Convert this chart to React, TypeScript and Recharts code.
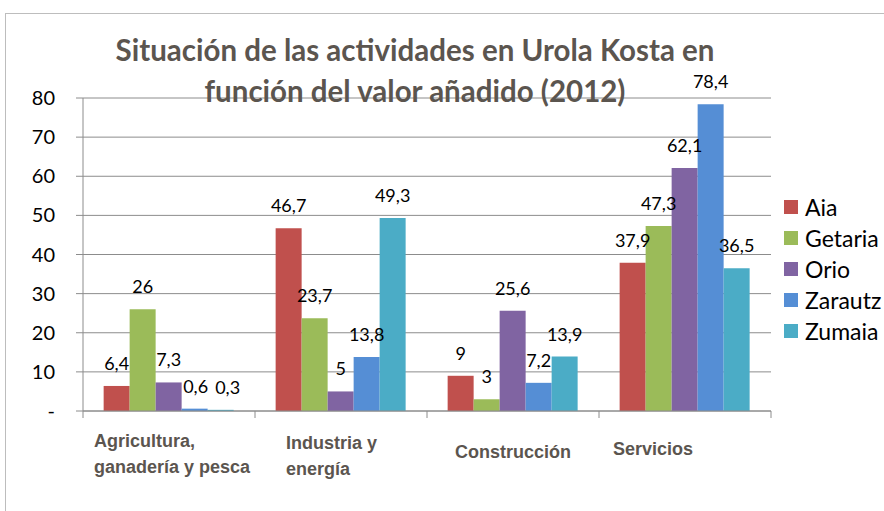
import { BarChart, Bar, XAxis, YAxis, CartesianGrid, LabelList } from 'recharts';

const categories = ['Agricultura, ganadería y pesca', 'Industria y energía', 'Construcción', 'Servicios'];
const categoryLines = [['Agricultura,', 'ganadería y pesca'], ['Industria y', 'energía'], ['Construcción'], ['Servicios']];
const seriesNames = ['Aia', 'Getaria', 'Orio', 'Zarautz', 'Zumaia'];
const aia = [6.4, 46.7, 9, 37.9];
const getaria = [26, 23.7, 3, 47.3];
const orio = [7.3, 5, 25.6, 62.1];
const zarautz = [0.6, 13.8, 7.2, 78.4];
const zumaia = [0.3, 49.3, 13.9, 36.5];
const yTicks = [0, 10, 20, 30, 40, 50, 60, 70, 80];
const titleLines = ['Situación de las actividades en Urola Kosta en', 'función del valor añadido (2012)'];

const colors = ['#C0504D', '#9BBB59', '#8064A2', '#558ED5', '#4BACC6'];
const seriesValues = [aia, getaria, orio, zarautz, zumaia];

const data = categories.map((name, i) => {
  const row: Record<string, any> = { name, idx: i };
  seriesNames.forEach((s, k) => {
    row[s] = seriesValues[k][i];
  });
  return row;
});

const bodyFont = 'Lato, "Open Sans", sans-serif';
const catFont = '"Liberation Sans", Arial, sans-serif';
const greyText = '#5B554F';

const fmt = (v: any) => String(v).replace('.', ',');

// category label block offsets (Excel places these a bit irregularly)
const tickDx = [-75, -55, -58, -72];
const tickDy = [22, 24, 33, 30];

const CategoryTick = (props: any) => {
  const { x, y, index } = props;
  const lines = categoryLines[index] || [];
  return (
    <text
      x={x + tickDx[index]}
      y={y + tickDy[index]}
      fill={greyText}
      fontFamily={catFont}
      fontWeight="bold"
      fontSize={18}
      textAnchor="start"
      dominantBaseline="middle"
    >
      {lines.map((l, i) => (
        <tspan key={i} x={x + tickDx[index]} dy={i === 0 ? 0 : 26}>
          {l}
        </tspan>
      ))}
    </text>
  );
};

// small neighbouring labels get pushed apart a little, like Excel does
const SeriesLabel = (props: any) => {
  const { x, y, width, value, index, seriesIndex } = props;
  let dx = 0;
  if (value < 1 && seriesIndex === 4) dx = 7;
  if (value < 1 && seriesIndex === 3) dx = 1;
  return (
    <text
      x={x + width / 2 + dx}
      y={y - 16}
      textAnchor="middle"
      fill="#000"
      fontFamily={bodyFont}
      fontSize={18}
      key={index}
    >
      {fmt(value)}
    </text>
  );
};

const App = () => {
  return (
    <div style={{ position: 'absolute', left: 0, top: 0, width: 884, height: 511, background: '#fff', overflow: 'hidden' }}>
      <div
        style={{
          position: 'absolute',
          left: 5,
          top: 13,
          width: 900,
          height: 520,
          borderLeft: '1.5px solid #BDBDBD',
          borderTop: '1.5px solid #BDBDBD',
        }}
      />
      <div style={{ position: 'absolute', left: 0, top: 0 }}>
        <BarChart
          width={884}
          height={511}
          data={data}
          margin={{ top: 98, right: 113, left: 0, bottom: 0 }}
          barCategoryGap="12%"
          barGap={0}
        >
          <CartesianGrid vertical={false} stroke="#8C8C8C" strokeWidth={1} />
          <XAxis
            xAxisId={0}
            type="number"
            dataKey="idx"
            domain={[0, 4]}
            ticks={[0, 1, 2, 3, 4]}
            height={1}
            axisLine={{ stroke: '#8C8C8C' }}
            tickLine={{ stroke: '#8C8C8C' }}
            tickSize={7}
            tickFormatter={() => ''}
            orientation="bottom"
          />
          <XAxis
            dataKey="name"
            xAxisId={1}
            height={99}
            axisLine={false}
            tickLine={false}
            interval={0}
            tick={<CategoryTick />}
          />
          <YAxis
            width={83}
            domain={[0, 80]}
            ticks={yTicks}
            interval={0}
            axisLine={{ stroke: '#8C8C8C' }}
            tickLine={{ stroke: '#8C8C8C' }}
            tickSize={7}
            tickMargin={21}
            tickFormatter={(v: number) => (v === 0 ? '-' : String(v))}
            tick={{ fill: '#000', fontFamily: bodyFont, fontSize: 20 }}
          />
          {seriesNames.map((s, k) => (
            <Bar key={s} dataKey={s} fill={colors[k]} isAnimationActive={false} xAxisId={1}>
              <LabelList dataKey={s} content={(p: any) => <SeriesLabel {...p} seriesIndex={k} />} />
            </Bar>
          ))}
        </BarChart>
      </div>
      <div
        style={{
          position: 'absolute',
          left: 0,
          top: 29,
          width: 830,
          textAlign: 'center',
          color: greyText,
          fontFamily: bodyFont,
          fontWeight: 'bold',
          fontSize: 29.5,
          lineHeight: '41px',
        }}
      >
        {titleLines.map((t) => (
          <div key={t}>{t}</div>
        ))}
      </div>
      <div style={{ position: 'absolute', left: 784, top: 192, fontFamily: bodyFont, fontSize: 23, color: '#000' }}>
        {seriesNames.map((s, k) => (
          <div key={s} style={{ display: 'flex', alignItems: 'center', height: 30.8, whiteSpace: 'nowrap' }}>
            <span style={{ display: 'inline-block', width: 14, height: 14, background: colors[k], marginRight: 7 }} />
            <span>{s}</span>
          </div>
        ))}
      </div>
    </div>
  );
};

export default App;
